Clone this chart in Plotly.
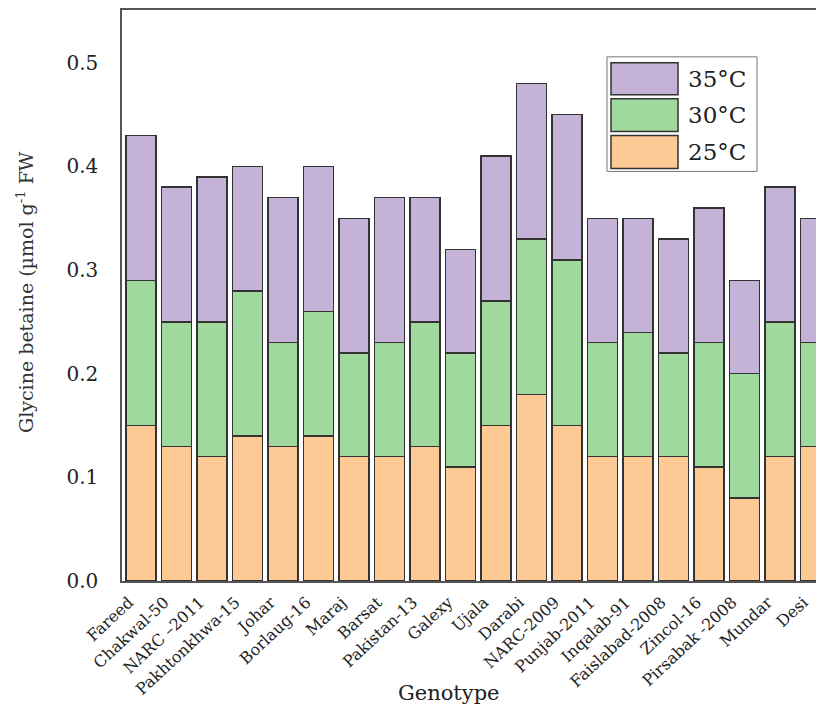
import plotly.graph_objects as go

genotypes = ["Fareed", "Chakwal-50", "NARC –2011", "Pakhtonkhwa-15", "Johar", "Borlaug-16",
             "Maraj", "Barsat", "Pakistan-13", "Galexy", "Ujala", "Darabi", "NARC-2009",
             "Punjab-2011", "Inqalab-91", "Faislabad-2008", "Zincol-16", "Pirsabak -2008",
             "Mundar", "Desi"]
t25 = [0.15, 0.13, 0.12, 0.14, 0.13, 0.14, 0.12, 0.12, 0.13, 0.11,
       0.15, 0.18, 0.15, 0.12, 0.12, 0.12, 0.11, 0.08, 0.12, 0.13]
t30 = [0.14, 0.12, 0.13, 0.14, 0.10, 0.12, 0.10, 0.11, 0.12, 0.11,
       0.12, 0.15, 0.16, 0.11, 0.12, 0.10, 0.12, 0.12, 0.13, 0.10]
t35 = [0.14, 0.13, 0.14, 0.12, 0.14, 0.14, 0.13, 0.14, 0.12, 0.10,
       0.14, 0.15, 0.14, 0.12, 0.11, 0.11, 0.13, 0.09, 0.13, 0.12]
series_names = ["25°C", "30°C", "35°C"]
colors = ["#FDC995", "#A0D99D", "#C4B2D7"]

FONT = "DejaVu Serif"
OFF = 8  # page body margin
W, H = 824 - OFF, 709 - OFF
ML, MR, MT, MB = 122 - OFF, 0, 8 - OFF, 709 - 581
PW, PH = W - ML - MR, H - MT - MB


def px(x):  # page pixel -> paper
    return (x - OFF - ML) / PW


def py(y):
    return (H - MB - (y - OFF)) / PH


fig = go.Figure()
for name, vals, col in zip(series_names, [t25, t30, t35], colors):
    fig.add_trace(go.Bar(x=genotypes, y=vals, name=name, marker_color=col,
                         marker_line_color="#333333", marker_line_width=1.5,
                         showlegend=False))

fig.update_layout(
    barmode="stack", bargap=0.15,
    width=W, height=H,
    margin=dict(l=ML, r=MR, t=MT, b=MB, pad=0),
    plot_bgcolor="white", paper_bgcolor="white",
    font=dict(family=FONT, color="#222222"),
)
fig.update_xaxes(
    range=[-0.535, 19.24], showline=True, linecolor="#555555", linewidth=1.5,
    mirror=True, showgrid=False, ticks="outside", ticklen=4,
    tickcolor="rgba(0,0,0,0)", tickangle=-43, ticklabelshift=-12,
    tickfont=dict(family=FONT, size=16, color="#222222"),
)
fig.update_yaxes(
    range=[0, 0.551], showline=True, linecolor="#555555", linewidth=1.5,
    mirror=False, showgrid=False, zeroline=False,
    tickvals=[0, 0.1, 0.2, 0.3, 0.4, 0.5], tickformat=".1f",
    ticks="outside", ticklen=18, tickcolor="rgba(0,0,0,0)",
    tickfont=dict(family=FONT, size=20, color="#222222"),
)

# axis titles
fig.add_annotation(text="Genotype", xref="paper", yref="paper",
                   x=px(449), y=py(693), xanchor="center", yanchor="middle",
                   showarrow=False, font=dict(family=FONT, size=21, color="#222222"))
fig.add_annotation(text="Glycine betaine (µmol g<sup>-1</sup> FW", xref="paper", yref="paper",
                   x=px(25), y=py(291), xanchor="center", yanchor="middle",
                   textangle=-90, showarrow=False,
                   font=dict(family=FONT, size=19, color="#333333"))

# legend drawn manually
fig.add_shape(type="rect", xref="paper", yref="paper",
              x0=px(607), x1=px(757), y0=py(170), y1=py(55),
              line=dict(color="#777777", width=1), fillcolor="white")
swatches = [(61, 93, colors[2], series_names[2]),
            (97, 130, colors[1], series_names[1]),
            (134, 167, colors[0], series_names[0])]
for y0, y1, col, name in swatches:
    fig.add_shape(type="rect", xref="paper", yref="paper",
                  x0=px(611), x1=px(678), y0=py(y1), y1=py(y0),
                  line=dict(color="#333333", width=1.5), fillcolor=col)
    fig.add_annotation(text=name, xref="paper", yref="paper",
                       x=px(686), y=py((y0 + y1) / 2), xanchor="left", yanchor="middle",
                       showarrow=False, font=dict(family=FONT, size=23, color="#222222"))

fig.write_html("out.html")
